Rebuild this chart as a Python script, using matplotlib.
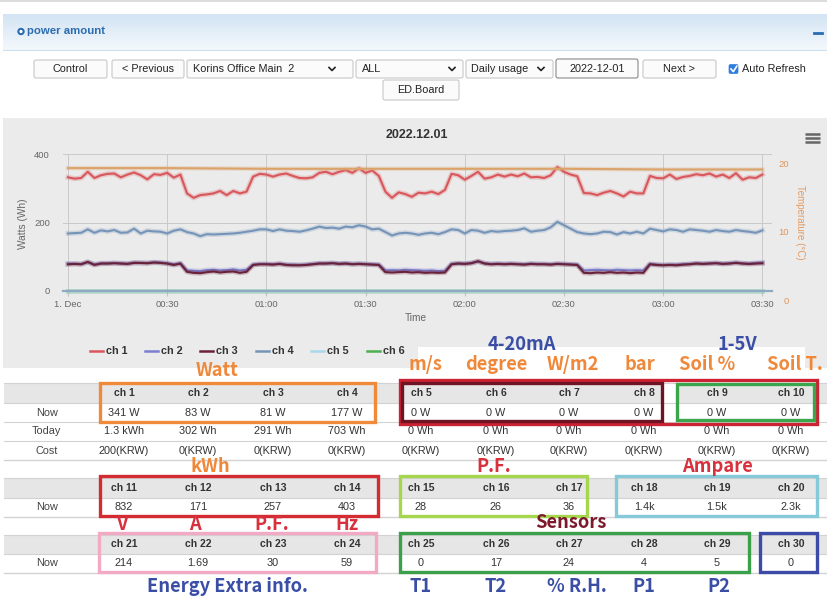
import numpy as np
import matplotlib.pyplot as plt
import matplotlib.patheffects as pe
import matplotlib.transforms as mtransforms
from matplotlib.patches import Rectangle, FancyBboxPatch, Circle
from matplotlib.colors import LinearSegmentedColormap

SANS = ['Liberation Sans', 'DejaVu Sans']
KR = ['Noto Sans CJK KR', 'DejaVu Sans']

# chart data: minutes after 00:00 on 1 Dec 2022, one sample every 2 minutes
minutes = np.arange(0, 211, 2)
ch1 = [332, 328, 330, 348, 330, 338, 342, 343, 332, 340, 346, 338, 326, 341, 339, 345, 331, 340,
       285, 272, 280, 282, 285, 292, 280, 292, 285, 290,
       334, 342, 340, 334, 340, 343, 336, 330, 329, 332, 345, 348, 341, 348, 353, 345, 358, 345, 352, 336,
       290, 272, 288, 283, 275, 287, 285, 290, 283, 295,
       342, 338, 325, 336, 348, 328, 332, 340, 334, 340, 335, 343, 332, 333, 330, 338, 362, 348, 340,
       335, 286, 285, 280, 287, 292, 285, 276, 290, 285, 285,
       336, 330, 329, 340, 327, 333, 336, 341, 338, 343, 334, 340, 330, 344, 325, 332, 330, 340]
ch2 = [80, 80, 79, 84, 78, 81, 81, 82, 81, 80, 83, 82, 82, 84, 83, 81, 78, 81,
       60, 59, 58, 61, 62, 60, 61, 63, 60, 62,
       77, 79, 79, 78, 80, 77, 77, 76, 77, 79, 81, 81, 82, 80, 81, 79, 80, 79, 78, 77,
       60, 61, 60, 62, 61, 60, 59, 60, 58, 59,
       79, 81, 80, 82, 86, 81, 79, 80, 79, 80, 79, 78, 80, 79, 79, 78, 80, 79, 78,
       77, 60, 61, 62, 61, 60, 62, 61, 60, 61, 60,
       79, 77, 76, 77, 77, 78, 79, 81, 80, 81, 82, 80, 81, 83, 81, 80, 82, 83]
ch3 = [78, 79, 78, 85, 76, 80, 80, 81, 80, 79, 82, 82, 81, 83, 82, 80, 76, 80,
       56, 53, 52, 55, 57, 54, 56, 57, 53, 56,
       76, 78, 78, 77, 79, 76, 75, 75, 76, 78, 80, 80, 81, 79, 80, 78, 79, 78, 77, 76,
       55, 54, 55, 56, 54, 55, 53, 54, 53, 54,
       78, 80, 79, 81, 87, 80, 78, 79, 78, 79, 78, 77, 79, 78, 78, 77, 79, 78, 77,
       76, 53, 52, 54, 53, 55, 53, 54, 52, 54, 53,
       78, 76, 75, 76, 75, 77, 78, 80, 79, 80, 81, 79, 80, 82, 80, 79, 80, 81]
ch4 = [168, 169, 170, 180, 170, 177, 174, 178, 170, 171, 182, 168, 176, 174, 173, 168, 176, 180,
       172, 168, 160, 166, 165, 166, 167, 168, 170, 173,
       176, 180, 180, 175, 180, 176, 175, 173, 177, 182, 188, 184, 185, 182, 188, 186, 192, 188, 180, 182,
       172, 162, 168, 170, 168, 164, 168, 170, 166, 172,
       180, 178, 168, 178, 176, 170, 175, 173, 175, 176, 178, 183, 173, 176, 178, 186, 202, 192, 182,
       172, 168, 166, 168, 173, 172, 165, 172, 168, 173, 168,
       182, 178, 174, 180, 178, 173, 180, 178, 176, 173, 178, 175, 173, 178, 175, 173, 170, 177]
ch5 = [0] * len(minutes)
ch6 = [0] * len(minutes)
temp_minutes = [0, 30, 60, 90, 120, 150, 180, 210]
temperature = [19.4, 19.4, 19.3, 19.3, 19.3, 19.3, 19.2, 19.2]

series_names = ['ch 1', 'ch 2', 'ch 3', 'ch 4', 'ch 5', 'ch 6']
series_colors = ['#d9575b', '#7c7ed0', '#6a2238', '#7694b8', '#a8d8ea', '#4caf50']
tick_minutes = [0, 30, 60, 90, 120, 150, 180, 210]
tick_labels = ['1. Dec', '00:30', '01:00', '01:30', '02:00', '02:30', '03:00', '03:30']

# table data
t1_headers = ['ch 1', 'ch 2', 'ch 3', 'ch 4', 'ch 5', 'ch 6', 'ch 7', 'ch 8', 'ch 9', 'ch 10']
t1_now = ['341 W', '83 W', '81 W', '177 W', '0 W', '0 W', '0 W', '0 W', '0 W', '0 W']
t1_today = ['1.3 kWh', '302 Wh', '291 Wh', '703 Wh', '0 Wh', '0 Wh', '0 Wh', '0 Wh', '0 Wh', '0 Wh']
t1_cost = ['200(KRW)'] + ['0(KRW)'] * 9
t2_headers = ['ch 11', 'ch 12', 'ch 13', 'ch 14', 'ch 15', 'ch 16', 'ch 17', 'ch 18', 'ch 19', 'ch 20']
t2_now = ['832', '171', '257', '403', '28', '26', '36', '1.4k', '1.5k', '2.3k']
t3_headers = ['ch 21', 'ch 22', 'ch 23', 'ch 24', 'ch 25', 'ch 26', 'ch 27', 'ch 28', 'ch 29', 'ch 30']
t3_now = ['214', '1.69', '30', '59', '0', '17', '24', '4', '5', '0']

W, H = 828, 596
fig = plt.figure(figsize=(W / 100, H / 100), dpi=100)
bg = fig.add_axes([0, 0, 1, 1])
bg.axis('off')


def box(x0, y0, x1, y1, **kw):
    bg.add_patch(Rectangle((x0, y0), x1 - x0, y1 - y0, **kw))


def txt(x, y, s, **kw):
    kw.setdefault('ha', 'center')
    kw.setdefault('va', 'center')
    kw.setdefault('family', SANS)
    bg.text(x, y, s, **kw)


def chevron(x, y):
    bg.plot([x - 3, x, x + 3], [y - 1.5, y + 1.5, y - 1.5], color='#222', lw=1.2)


def button(x0, x1, y0, y1, label, ec='#c8c8c8'):
    bg.add_patch(FancyBboxPatch((x0, y0), x1 - x0, y1 - y0,
                                boxstyle='round,pad=0,rounding_size=2',
                                fc='#fbfbfb', ec=ec, lw=0.8))
    if label:
        txt((x0 + x1) / 2, (y0 + y1) / 2, label, fontsize=7.8, color='#222')


# --- panel header ---
bg.plot([0, W], [1, 1], color='#d6d6d6', lw=1.2)
grad = np.linspace(0, 1, 64).reshape(-1, 1)
hdr_cmap = LinearSegmentedColormap.from_list('hdr', ['#d3e4f3', '#f4f8fc'])
bg.imshow(grad, cmap=hdr_cmap, extent=(3, W, 50, 14), aspect='auto', zorder=0)
bg.plot([3, W], [50, 50], color='#cddff0', lw=0.8)
bg.add_patch(Circle((21, 31.5), 3, color='#2a6cb0'))
bg.add_patch(Circle((21, 31.5), 0.9, color='white'))
txt(27, 31.5, 'power amount', ha='left', fontsize=8.2, weight='bold', color='#2a6cb0')
bg.plot([814, 822], [33, 33], color='#2a6cb0', lw=2)

# --- controls ---
button(34, 107, 60, 78, 'Control')
button(112, 184, 60, 78, '< Previous')
button(187, 353, 60, 78, '')
txt(193, 69, 'Korins Office Main  2', ha='left', fontsize=7.8, color='#222')
chevron(332, 69)
button(356, 463, 60, 78, '')
txt(362, 69, 'ALL', ha='left', fontsize=7.8, color='#222')
chevron(452, 69)
button(466, 553, 60, 78, '')
txt(471, 69, 'Daily usage', ha='left', fontsize=7.8, color='#222')
chevron(541, 69)
button(556, 638, 59, 78, '2022-12-01', ec='#8a8a8a')
button(643, 716, 60, 78, 'Next >')
bg.add_patch(FancyBboxPatch((729, 64.5), 9, 9, boxstyle='round,pad=0,rounding_size=1.5',
                            fc='#2f7de1', ec='#2f7de1', lw=0.5))
bg.plot([731, 733.3, 736.8], [69, 71.6, 66.2], color='white', lw=1.2)
txt(742, 69, 'Auto Refresh', ha='left', fontsize=7.8, color='#222')
button(383, 459, 80, 100, 'ED.Board')

# --- chart background ---
box(3, 118, W, 368, fc='#ebebeb', ec='none')
box(418, 347, 805, 371, fc='white', ec='none')
txt(416.5, 135, '2022.12.01', fontsize=9, weight='bold', color='#333')
for yy in (134, 138, 142):
    bg.plot([805, 820], [yy, yy], color='#666', lw=1.8, solid_capstyle='butt')
txt(23.5, 224, 'Watts (Wh)', rotation=90, fontsize=7.3, color='#666')
txt(800, 222, 'Temperature (°C)', rotation=270, fontsize=7, color='#e29a62')
txt(416, 318, 'Time', fontsize=7.3, color='#666')

# legend
leg_x = [90, 145, 200, 256, 311, 367]
for x, name, col in zip(leg_x, series_names, series_colors):
    bg.plot([x, x + 13], [351, 351], color=col, lw=1.8)
    txt(x + 16.5, 351, name, ha='left', fontsize=7.8, weight='bold', color='#333')

# --- tables ---
cols = [124, 198, 273, 347, 421, 496, 569, 644, 717, 791]
line_c = '#d2d2d2'


def table(top, hdr_h, row_h, headers, rows):
    box(4, top, W, top + hdr_h, fc='#e6e6e6', ec='none')
    bg.plot([4, W], [top, top], color=line_c, lw=0.8)
    for c, h in zip(cols, headers):
        txt(c, top + hdr_h / 2, h, fontsize=7.5, weight='bold', color='#333')
    y = top + hdr_h
    for label, vals in rows:
        bg.plot([4, W], [y, y], color=line_c, lw=0.8)
        txt(46.7, y + row_h / 2, label, fontsize=7.8, color='#444')
        for c, v in zip(cols, vals):
            txt(c, y + row_h / 2, v, fontsize=7.8, color='#333')
        y += row_h
    bg.plot([4, W], [y, y], color=line_c, lw=1.0)


table(383, 20, 19, t1_headers, [('Now', t1_now), ('Today', t1_today), ('Cost', t1_cost)])
table(478, 20, 19, t2_headers, [('Now', t2_now)])
table(534.5, 19, 19, t3_headers, [('Now', t3_now)])
box(664, 383.5, 676, 421, fc='white', ec='none')

# highlight boxes
frames = [((100, 382.7, 375, 422.3), '#ee8a3a'),
          ((400, 380, 817, 424), '#cc2233'),
          ((402.5, 383, 662, 421), '#6e1424'),
          ((677, 384, 814, 420), '#3aa54a'),
          ((100, 476, 378, 516), '#d42a32'),
          ((400, 476, 587, 516), '#a6d64e'),
          ((616, 476, 817, 516), '#86c9d9'),
          ((99, 533, 376, 572), '#f2a9c3'),
          ((400, 533, 749, 572), '#3aa04a'),
          ((760, 533, 817, 572), '#3c4aa8')]
for (x0, y0, x1, y1), col in frames:
    box(x0, y0, x1, y1, fc='none', ec=col, lw=2.4, zorder=5)

# annotation labels
ORANGE, BLUE, RED, MAROON = '#f0883a', '#3a4ea6', '#d8303c', '#7c1a2c'
notes = [('4-20mA', 522, 345, BLUE), ('1-5V', 737, 345, BLUE),
         ('Watt', 217, 370, ORANGE), ('m/s', 425, 364, ORANGE), ('degree', 496, 364, ORANGE),
         ('W/m2', 573, 364, ORANGE), ('bar', 640, 364, ORANGE), ('Soil %', 707, 364, ORANGE),
         ('Soil T.', 795, 364, ORANGE), ('kWh', 210, 466, ORANGE),
         ('P.F.', 494, 466, RED), ('Ampare', 717, 467, RED),
         ('V', 122, 525, RED), ('A', 195, 525, RED), ('P.F.', 272, 525, RED), ('Hz', 347, 525, RED),
         ('Sensors', 571, 523, MAROON),
         ('Energy Extra info.', 227, 586, BLUE), ('T1', 421, 586, BLUE), ('T2', 496, 586, BLUE),
         ('% R.H.', 577, 586, BLUE), ('P1', 644, 586, BLUE), ('P2', 719, 586, BLUE)]
for s, x, y, col in notes:
    txt(x, y, s, fontsize=13.2, weight='bold', color=col, family=KR, zorder=6)

bg.set_xlim(0, W)
bg.set_ylim(H, 0)

# --- line chart ---
L, R, T, B = 63, 772, 154, 291
ax = fig.add_axes([L / W, 1 - B / H, (R - L) / W, (B - T) / H])
ax.patch.set_visible(False)
ax.set_xlim(-1.5, 212.9)
ax.set_ylim(0, 400)
for name in ('top', 'left', 'right'):
    ax.spines[name].set_visible(False)
ax.spines['bottom'].set_color('#8fa9c2')
ax.spines['bottom'].set_linewidth(1.6)
ax.set_xticks(tick_minutes)
ax.set_xticklabels(tick_labels, fontsize=6.8, color='#666', family=SANS)
ax.set_yticks([0, 200, 400])
ax.set_yticklabels(['0', '200', '400'], fontsize=6.8, color='#666', family=SANS)
ax.tick_params(axis='x', length=3.6, color='#c4c4c4', pad=3)
ax.tick_params(axis='y', length=0, pad=9.4)
ax.grid(color='#c9c9c9', lw=0.7)
ax.set_axisbelow(True)

for vals, col in zip([ch1, ch2, ch3, ch4, ch6, ch5],
                     [series_colors[i] for i in (0, 1, 2, 3, 5, 4)]):
    ax.plot(minutes, vals, color=col, lw=1.5, clip_on=False,
            path_effects=[pe.Stroke(linewidth=3.6, foreground=col, alpha=0.25), pe.Normal()])

ax2 = ax.twinx()
ax2.set_ylim(1.46, 21.46)
ax2.set_yticks([])
for s in ax2.spines.values():
    s.set_visible(False)
ax2.plot(temp_minutes, temperature, color='#dba26a', lw=1.5,
         path_effects=[pe.Stroke(linewidth=3.2, foreground='#dba26a', alpha=0.25), pe.Normal()])
trans = mtransforms.blended_transform_factory(ax2.transAxes, ax2.transData)
for v in (0, 10, 20):
    ax2.text(1 + 17 / (R - L), v, str(v), transform=trans, ha='right', va='center',
             clip_on=False, fontsize=6.8, color='#e0955a', family=SANS)

fig.savefig('out.png', dpi=100)
